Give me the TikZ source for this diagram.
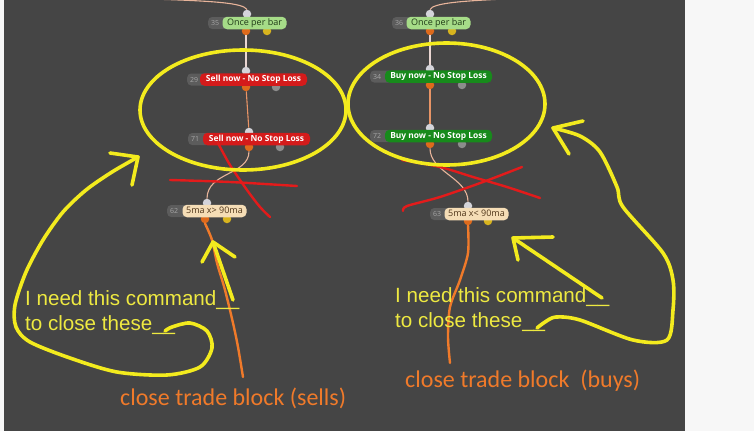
\documentclass[tikz,border=0pt]{standalone}
\usepackage{fontspec}
\usetikzlibrary{positioning}
\newfontfamily\blockfont{Open Sans}
\newfontfamily\askfont{Liberation Sans}
\newfontfamily\tradefont{Carlito}
\definecolor{BLKPage}{HTML}{F7F7F7}
\definecolor{BLKBack}{HTML}{454545}
\definecolor{BLKTag}{HTML}{5C5C5C}
\definecolor{BLKTagText}{HTML}{A6A6A6}
\definecolor{BLKOnce}{HTML}{A6DC88}
\definecolor{BLKOnceText}{HTML}{1F3A17}
\definecolor{BLKSell}{HTML}{D41B1B}
\definecolor{BLKBuy}{HTML}{178A1B}
\definecolor{BLKCross}{HTML}{F5DDB6}
\definecolor{BLKCrossText}{HTML}{4E3418}
\definecolor{BLKPin}{HTML}{D4D4DA}
\definecolor{BLKOut}{HTML}{DE6A1C}
\definecolor{BLKGate}{HTML}{D8B41E}
\definecolor{BLKAux}{HTML}{8C8C8C}
\definecolor{BLKWire}{HTML}{EAD6D2}
\definecolor{BLKSalmon}{HTML}{E89466}
\definecolor{BLKBlend}{HTML}{E8B49A}
\definecolor{BLKMark}{HTML}{F3EB1E}
\definecolor{BLKAsk}{HTML}{EEE941}
\definecolor{BLKRed}{HTML}{E31B1B}
\definecolor{BLKOrange}{HTML}{F07A2A}

\begin{document}
\begin{tikzpicture}[x=1pt,y=-1pt,
      port/.style={circle,inner sep=0pt,minimum size=8.5pt},
      pin/.style={port,fill=BLKPin},
      pout/.style={port,fill=BLKOut},
      pgate/.style={port,fill=BLKGate},
      paux/.style={port,fill=BLKAux},
      wire/.style={draw=BLKWire,line width=1.1pt},
      tag/.style={anchor=west,fill=BLKTag,text=BLKTagText,rounded corners=4pt,
        font=\blockfont\fontsize{7}{8}\selectfont,minimum height=12pt,
        inner xsep=3pt,text width=16pt,align=left},
      pill/.style={rounded corners=4.5pt,minimum height=12.5pt,inner sep=1pt,
        text height=6.6pt,text depth=1.8pt},
      oncebox/.style={pill,fill=BLKOnce,text=BLKOnceText,minimum width=64pt,
        font=\blockfont\fontsize{9}{10}\selectfont},
      sellbox/.style={pill,fill=BLKSell,text=white,minimum width=107pt,
        font=\blockfont\bfseries\fontsize{8.4}{10}\selectfont},
      buybox/.style={pill,fill=BLKBuy,text=white,minimum width=107pt,
        font=\blockfont\bfseries\fontsize{8.4}{10}\selectfont},
      crossbox/.style={pill,fill=BLKCross,text=BLKCrossText,minimum width=64pt,
        font=\blockfont\fontsize{9}{10}\selectfont},
      hand/.style={draw=BLKMark,line width=3.6pt,line cap=round,line join=round},
      cross/.style={draw=BLKRed,line width=2.4pt,line cap=round,line join=round},
      trace/.style={draw=BLKOrange,line width=2.4pt,line cap=round,line join=round},
      ask/.style={anchor=base west,text=BLKAsk,inner sep=0pt,
        font=\askfont\fontsize{20.6}{24}\selectfont},
      tradenote/.style={anchor=base west,text=BLKOrange,inner sep=0pt,
        font=\tradefont\fontsize{24}{28}\selectfont}
    ]
    \useasboundingbox (0,0) rectangle (754,431);
    \fill[BLKPage] (0,0) rectangle (754,431);
    \fill[BLKBack] (4,0) rectangle (685,431);

    % ports
    \node[pin] (p35in) at (247,14) {};
    \node[pout] (p35out) at (246,31) {};
    \node[pgate] (p35aux) at (267,31) {};
    \node[pin] (p29in) at (246,71) {};
    \node[pout] (p29out) at (246,87) {};
    \node[paux] (p29aux) at (276,87) {};
    \node[pin] (p71in) at (249,132) {};
    \node[pout] (p71out) at (249,147) {};
    \node[paux] (p71aux) at (280,147) {};
    \node[pin] (p62in) at (207,203) {};
    \node[pout] (p62out) at (205,219) {};
    \node[pgate] (p62aux) at (227,219) {};
    \node[pin] (p36in) at (430,14) {};
    \node[pout] (p36out) at (430,31) {};
    \node[pgate] (p36aux) at (452,31) {};
    \node[pin] (p34in) at (430,69) {};
    \node[pout] (p34out) at (430,85) {};
    \node[paux] (p34aux) at (462,85) {};
    \node[pin] (p72in) at (430,128) {};
    \node[pout] (p72out) at (430,144) {};
    \node[paux] (p72aux) at (462,144) {};
    \node[pin] (p63in) at (468,206) {};
    \node[pout] (p63out) at (468,221) {};
    \node[pgate] (p63aux) at (488,221) {};

    % wires
    \coordinate (feedL) at (150,-1);
    \coordinate (feedR) at (505,-1);
    \draw[wire,draw=BLKBlend] (feedL) .. controls (215,1) and (243,3) .. (p35in.north);
    \draw[wire,draw=BLKBlend] (p36in.north) .. controls (433,3) and (462,1) .. (feedR);
    \draw[wire] (p35out) -- (p29in);
    \draw[wire,draw=BLKSalmon] (p29out) -- (p71in);
    \draw[wire,draw=BLKBlend] (p71out.south) .. controls (249,175) and (207,172) .. (p62in.north);
    \draw[wire] (p36out) -- (p34in);
    \draw[wire,draw=BLKSalmon] (p34out) -- (p72in);
    \draw[wire,draw=BLKBlend] (p72out.south) .. controls (430,172) and (468,178) .. (p63in.north);

    % blocks
    \node[tag] (t35) at (208,23) {35};
    \node[oncebox] (b35) at (254.5,23) {Once per bar};
    \node[tag] (t29) at (187,79.5) {29};
    \node[sellbox] (b29) at (253.5,79.5) {Sell now - No Stop Loss};
    \node[tag] (t71) at (188,139) {71};
    \node[sellbox] (b71) at (256.5,139) {Sell now - No Stop Loss};
    \node[tag] (t62) at (167,211) {62};
    \node[crossbox] (b62) at (214.5,211) {5ma x> 90ma};
    \node[tag] (t36) at (392,23) {36};
    \node[oncebox] (b36) at (438.5,23) {Once per bar};
    \node[tag] (t34) at (370,76.5) {34};
    \node[buybox] (b34) at (438.5,76.5) {Buy now - No Stop Loss};
    \node[tag] (t72) at (370,136) {72};
    \node[buybox] (b72) at (438.5,136) {Buy now - No Stop Loss};
    \node[tag] (t63) at (430,214) {63};
    \node[crossbox] (b63) at (476.5,214) {5ma x< 90ma};

    % red crosses
    \draw[cross] plot[smooth] coordinates {(170,180) (230,182) (297,186)};
    \draw[cross] plot[smooth] coordinates {(218,143) (230,165) (247,190) (260,207) (270,217)};
    \draw[cross] plot[smooth] coordinates {(402,160) (440,167) (473,177) (507,187) (540,198)};
    \draw[cross] plot[smooth] coordinates {(403,211) (407,206) (440,197) (483,182) (522,167)};

    % orange traces
    \draw[trace] plot[smooth] coordinates {(p62out.south) (212,240) (217,263) (225,290) (233,323) (238,347) (243,377)};
    \draw[trace] plot[smooth] coordinates {(p63out.south) (468,253) (460,280) (450,307) (448,337) (450,363)};

    % yellow marks
    \draw[hand] (243,110) ellipse [x radius=103, y radius=60];
    \draw[hand] (446.5,104) ellipse [x radius=98.5, y radius=61];
    \draw[hand] plot[smooth] coordinates {(138,157) (112,172) (86,190) (63,212) (43,240) (26,272)
      (15,305) (16,327) (30,342) (70,358) (117,372) (167,375) (200,367) (212,348) (207,331)
      (190,323) (172,327) (165,331)};
    \draw[hand] (110,153) -- (138,157) -- (132,185);
    \draw[hand] (233,300) -- (213,242);
    \draw[hand] (202,262) -- (213,242) -- (235,257);
    \draw[hand] (602,298) -- (513,238);
    \draw[hand] (553,237) -- (513,238) -- (518,260);
    \draw[hand] plot[smooth] coordinates {(537,328) (545,322) (556,317) (580,320) (633,340)
      (667,340) (673,310) (673,280) (663,253) (623,207) (617,187) (600,152) (580,136) (553,128)};
    \draw[hand] (583,121) -- (553,128) -- (569,154);

    % notes
    \node[ask] (askL1) at (25,305) {I need this command\_\_};
    \node[ask] (askL2) at (25,330) {to close these\_\_};
    \node[ask] (askR1) at (395,302) {I need this command\_\_};
    \node[ask] (askR2) at (395,327) {to close these\_\_};
    \node[tradenote] (closeL) at (120,405) {close trade block (sells)};
    \node[tradenote] (closeR) at (405,387) {close trade block\ \ (buys)};
  \end{tikzpicture}
\end{document}
